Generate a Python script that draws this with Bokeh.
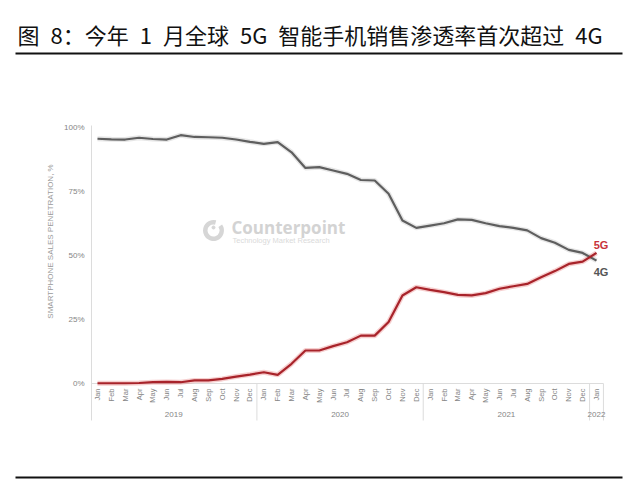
import math
from bokeh.plotting import figure
from bokeh.models import ColumnDataSource, Range1d
from bokeh.core.properties import value
from bokeh.embed import file_html
from bokeh.resources import INLINE

# ---------------- data ----------------
title_text = "图\u20028：今年\u20021\u2002月全球\u20025G\u2002智能手机销售渗透率首次超过\u20024G"
month_labels = ["Jan", "Feb", "Mar", "Apr", "May", "Jun", "Jul", "Aug", "Sep", "Oct", "Nov", "Dec"] * 3 + ["Jan"]
year_labels = ["2019", "2020", "2021", "2022"]
year_centers = [5.5, 17.5, 29.5, 36]
y_ticks = [0, 25, 50, 75, 100]
y_tick_labels = ["0%", "25%", "50%", "75%", "100%"]
y_title = "SMARTPHONE SALES PENETRATION, %"
series_names = ["5G", "4G"]
share_4g = [95.6, 95.4, 95.3, 96.0, 95.5, 95.3, 97.0, 96.3, 96.2, 96.0, 95.3, 94.4,
            93.6, 94.3, 90.3, 84.2, 84.5, 83.2, 81.9, 79.5, 79.3, 74.1, 63.7, 60.8,
            61.7, 62.6, 64.1, 63.9, 62.6, 61.5, 60.8, 59.8, 56.8, 55.0, 52.2, 51.0,
            48.0]
share_5g = [0.1, 0.1, 0.1, 0.2, 0.5, 0.6, 0.5, 1.2, 1.2, 1.8, 2.7, 3.5,
            4.4, 3.4, 7.7, 12.9, 12.9, 14.6, 16.1, 18.7, 18.7, 24.0, 34.4, 37.6,
            36.6, 35.7, 34.6, 34.4, 35.3, 37.0, 38.0, 38.9, 41.5, 43.9, 46.7, 47.6,
            51.0]
months = list(range(len(month_labels)))

# ---------------- layout (screen px -> data) ----------------
W, H = 640, 483
PX0, DX = 97.0, 13.861  # screen x of first month, px per month
PY0, DY = 383.0, 2.56   # screen y of 0 %, px per percent


def sx(px):
    return (px - PX0) / DX


def sy(py):
    return (PY0 - py) / DY


p = figure(width=W, height=H, output_backend="svg", toolbar_location=None,
           x_axis_location=None, y_axis_location=None,
           x_range=Range1d(sx(0), sx(W)), y_range=Range1d(sy(H), sy(0)),
           min_border=0, outline_line_color=None,
           background_fill_color="white", border_fill_color="white")
p.grid.visible = False

FONT = value("Liberation Sans")
AX_GREY = "#dcdcdc"
TXT_GREY = "#858585"

# title and rules
p.text(x=[sx(17)], y=[sy(33)], text=[title_text], text_font=value("Noto Sans CJK SC"),
       text_font_size="22px", text_color="#111111", text_baseline="middle", text_align="left")
p.segment(x0=[sx(15), sx(15)], y0=[sy(53), sy(477)], x1=[sx(622), sx(622)], y1=[sy(53), sy(477)],
          line_color="#111111", line_width=2)

# watermark
p.annular_wedge(x=[sx(213)], y=[sy(230)], inner_radius=6, outer_radius=10.5,
                inner_radius_units="screen", outer_radius_units="screen",
                start_angle=math.radians(75), end_angle=math.radians(395),
                fill_color="#d6d6d6", line_color=None)
p.scatter(x=[sx(213)], y=[sy(227)], size=3, color="#d6d6d6")
p.text(x=[sx(231)], y=[sy(227)], text=["Counterpoint"], text_font=value("Open Sans"),
       text_font_style="bold", text_font_size="17px", text_color="#d3d3d3",
       text_baseline="middle", text_align="left")
p.text(x=[sx(232)], y=[sy(240)], text=["Technology Market Research"], text_font=FONT,
       text_font_size="7.5px", text_color="#dadada", text_baseline="middle", text_align="left")

# y axis
p.segment(x0=[sx(91)], y0=[sy(125)], x1=[sx(91)], y1=[sy(420)], line_color=AX_GREY, line_width=1)
p.text(x=[sx(84)] * len(y_ticks), y=y_ticks, text=y_tick_labels, text_font=FONT,
       text_font_size="8px", text_color=TXT_GREY, text_baseline="middle", text_align="right")
p.text(x=[sx(50)], y=[sy(241)], text=[y_title], angle=math.pi / 2, text_font=FONT,
       text_font_size="8px", text_color="#9a9a9a", text_baseline="middle", text_align="center")

# x axis
p.segment(x0=[sx(91)], y0=[0], x1=[36.5], y1=[0], line_color=AX_GREY, line_width=1)
seps = [11.5, 23.5, 35.5, 36.5]
p.segment(x0=seps, y0=[0] * len(seps), x1=seps, y1=[sy(420)] * len(seps),
          line_color=AX_GREY, line_width=1)
p.text(x=months, y=[sy(388)] * len(months), text=month_labels, angle=math.pi / 2, text_font=FONT,
       text_font_size="7.5px", text_color=TXT_GREY, text_baseline="middle", text_align="right")
p.text(x=year_centers, y=[sy(414)] * len(year_centers), text=year_labels, text_font=FONT,
       text_font_size="8px", text_color=TXT_GREY, text_baseline="middle", text_align="center")

# series
src = ColumnDataSource(dict(m=months, g4=share_4g, g5=share_5g))
p.line("m", "g4", source=src, line_color="#9a9a9a", line_width=5, line_alpha=0.25)
p.line("m", "g5", source=src, line_color="#e06060", line_width=5, line_alpha=0.3)
p.line("m", "g4", source=src, line_color="#5e5e5e", line_width=2.2)
p.line("m", "g5", source=src, line_color="#a8232a", line_width=2.2)

# series labels
last = months[-1]
p.text(x=[last - 0.2, last - 0.2], y=[share_5g[-1] + 3.2, share_4g[-1] - 4.5], text=series_names,
       text_font=FONT, text_font_style="bold", text_font_size="11px",
       text_color=["#c8333a", "#555555"], text_baseline="middle", text_align="left")

open("out.html", "w").write(file_html(p, INLINE))
